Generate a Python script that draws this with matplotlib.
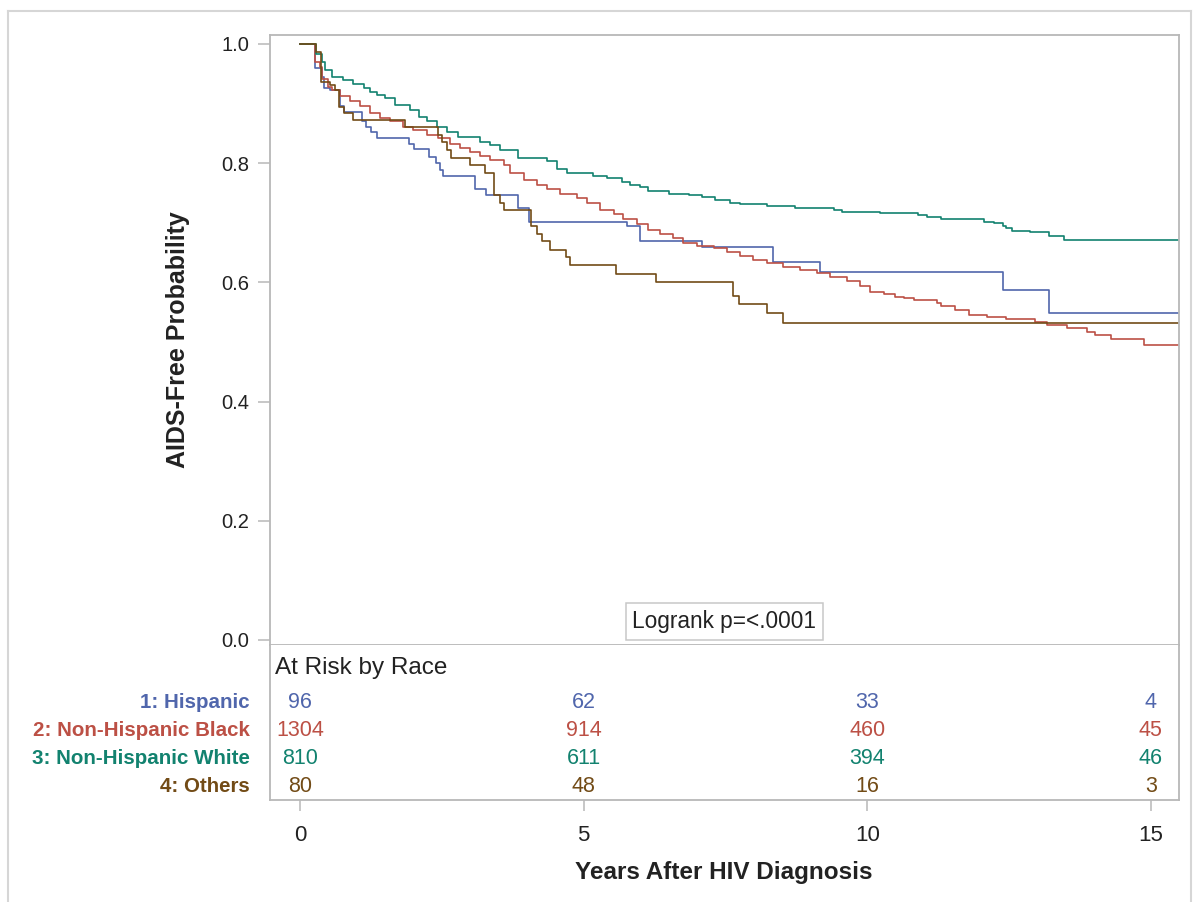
#!/usr/bin/env python3
# -*- coding: utf-8 -*-

# curvas Kaplan-Meier de sobrevida libre de SIDA por raza + tabla "at risk"
#------------------------------------------------------------------------------
import matplotlib
matplotlib.use("Agg")
import matplotlib.pyplot as plt
from matplotlib.lines import Line2D
import matplotlib.transforms as mtransforms

plt.rcParams['font.family'] = ['Liberation Sans', 'DejaVu Sans']

#------------------------------------------------------------------------------
# datos (tiempo en anos, probabilidad)
t_hisp = [0, 0.26, 0.38, 0.43, 0.53, 0.71, 0.78, 1.09, 1.17, 1.26, 1.36, 1.93,
          2.01, 2.28, 2.40, 2.47, 2.52, 3.09, 3.28, 3.85, 4.03, 5.76, 6.00,
          7.08, 8.34, 9.16, 12.39, 13.21, 15.5]
s_hisp = [1.0, 0.959, 0.945, 0.927, 0.922, 0.896, 0.886, 0.871, 0.861, 0.852,
          0.842, 0.833, 0.824, 0.811, 0.800, 0.789, 0.779, 0.756, 0.747, 0.724,
          0.702, 0.694, 0.669, 0.659, 0.634, 0.618, 0.587, 0.549, 0.549]

t_black = [0, 0.26, 0.35, 0.38, 0.50, 0.56, 0.71, 0.88, 1.06, 1.23, 1.41, 1.59,
           1.82, 2.00, 2.23, 2.44, 2.65, 2.82, 3.00, 3.17, 3.35, 3.59, 3.70,
           3.94, 4.17, 4.35, 4.59, 4.88, 5.06, 5.29, 5.53, 5.70, 5.94, 6.14,
           6.35, 6.58, 6.76, 7.00, 7.29, 7.53, 7.76, 7.99, 8.23, 8.52, 8.82,
           9.11, 9.35, 9.64, 9.88, 10.05, 10.29, 10.49, 10.64, 10.82, 11.23,
           11.30, 11.55, 11.79, 12.11, 12.45, 12.96, 13.17, 13.52, 13.87,
           14.02, 14.29, 14.87, 15.5]
s_black = [1.0, 0.970, 0.962, 0.942, 0.928, 0.922, 0.912, 0.905, 0.896, 0.884,
           0.876, 0.870, 0.861, 0.856, 0.847, 0.842, 0.833, 0.825, 0.819, 0.812,
           0.805, 0.797, 0.783, 0.772, 0.763, 0.756, 0.749, 0.741, 0.733, 0.722,
           0.714, 0.707, 0.698, 0.688, 0.682, 0.674, 0.666, 0.661, 0.657, 0.651,
           0.644, 0.638, 0.633, 0.626, 0.621, 0.616, 0.609, 0.603, 0.594, 0.584,
           0.580, 0.576, 0.573, 0.570, 0.566, 0.560, 0.554, 0.545, 0.542, 0.538,
           0.534, 0.529, 0.523, 0.517, 0.512, 0.505, 0.495, 0.495]

t_white = [0, 0.28, 0.38, 0.44, 0.56, 0.76, 0.93, 1.12, 1.23, 1.35, 1.50, 1.68,
           1.94, 2.09, 2.23, 2.41, 2.59, 2.79, 3.17, 3.35, 3.53, 3.85, 4.35,
           4.53, 4.70, 5.17, 5.41, 5.67, 5.82, 6.00, 6.14, 6.50, 6.85, 7.08,
           7.32, 7.58, 7.76, 8.23, 8.73, 9.41, 9.55, 10.23, 10.89, 11.05, 11.30,
           12.05, 12.23, 12.40, 12.45, 12.55, 12.87, 13.20, 13.46, 15.5]
s_white = [1.0, 0.983, 0.969, 0.956, 0.945, 0.940, 0.933, 0.926, 0.920, 0.914,
           0.909, 0.898, 0.889, 0.878, 0.870, 0.861, 0.853, 0.844, 0.836, 0.831,
           0.822, 0.808, 0.803, 0.791, 0.784, 0.779, 0.775, 0.768, 0.763, 0.760,
           0.754, 0.749, 0.747, 0.744, 0.739, 0.734, 0.732, 0.728, 0.724, 0.721,
           0.718, 0.716, 0.713, 0.709, 0.706, 0.702, 0.699, 0.695, 0.691, 0.687,
           0.684, 0.678, 0.671, 0.671]

t_other = [0, 0.28, 0.37, 0.53, 0.62, 0.69, 0.78, 0.93, 1.85, 2.43, 2.50, 2.59,
           2.67, 3.00, 3.26, 3.42, 3.53, 3.60, 4.07, 4.17, 4.26, 4.41, 4.69,
           4.76, 5.57, 6.27, 7.64, 7.74, 8.24, 8.51, 15.5]
s_other = [1.0, 0.986, 0.936, 0.931, 0.923, 0.895, 0.885, 0.872, 0.860, 0.847,
           0.836, 0.822, 0.809, 0.797, 0.784, 0.747, 0.733, 0.721, 0.694, 0.682,
           0.670, 0.655, 0.642, 0.629, 0.614, 0.601, 0.577, 0.564, 0.548, 0.532,
           0.532]

# tabla de pacientes en riesgo
grupos = ['1: Hispanic', '2: Non-Hispanic Black', '3: Non-Hispanic White',
          '4: Others']
tiempos_riesgo = [0, 5, 10, 15]
riesgo_hisp = [96, 62, 33, 4]
riesgo_black = [1304, 914, 460, 45]
riesgo_white = [810, 611, 394, 46]
riesgo_other = [80, 48, 16, 3]

colores = ['#5066AC', '#BC5045', '#12826F', '#724B16']
gris = '#B8B8B8'
texto = '#222222'

#------------------------------------------------------------------------------
W, H = 1195, 902
fig = plt.figure(figsize=(W / 100, H / 100), dpi=100)

def px_box(x0, y0, x1, y1):
    # caja en pixeles (origen arriba a la izquierda) -> fraccion de figura
    return [x0 / W, 1 - y1 / H, (x1 - x0) / W, (y1 - y0) / H]

ax = fig.add_axes(px_box(270, 35, 1179, 645))
at = fig.add_axes(px_box(270, 645, 1179, 800), sharex=ax)

curvas = [(t_hisp, s_hisp), (t_black, s_black), (t_white, s_white),
          (t_other, s_other)]
for (t, s), c in zip(curvas, colores):
    ax.step(t, s, where='post', color=c, lw=1.2)

ax.set_xlim(-0.529, 15.495)
ax.set_ylim(-0.0084, 1.0151)
ax.set_yticks([0.0, 0.2, 0.4, 0.6, 0.8, 1.0])
ax.set_yticklabels(['0.0', '0.2', '0.4', '0.6', '0.8', '1.0'])
ax.tick_params(axis='y', direction='out', length=9, width=1.1, color=gris,
               pad=6, labelsize=14.5, labelcolor=texto)
ax.tick_params(axis='x', bottom=False, labelbottom=False)
for sp in ax.spines.values():
    sp.set_color(gris)
    sp.set_linewidth(1.3)

# cuadro logrank
ax.text(0.5, 0.039, 'Logrank p=<.0001', transform=ax.transAxes,
        ha='center', va='center', fontsize=16.3, color=texto,
        bbox=dict(boxstyle='square,pad=0.3', fc='white', ec='#C8C8C8', lw=1.1))

# tabla at risk
at.set_ylim(0, 1)
at.set_yticks([])
at.spines['top'].set_visible(False)
for k in ['left', 'right', 'bottom']:
    at.spines[k].set_color(gris)
    at.spines[k].set_linewidth(1.3)
at.set_xticks(tiempos_riesgo)
at.set_xticklabels([str(v) for v in tiempos_riesgo])
at.tick_params(axis='x', direction='out', length=8, width=1.1, color=gris,
               pad=10, labelsize=16, labelcolor=texto)

at.text(0.0055, 0.852, 'At Risk by Race', transform=at.transAxes,
        ha='left', va='center', fontsize=17.5, color=texto)

filas_y = [703, 730, 758, 786]
riesgos = [riesgo_hisp, riesgo_black, riesgo_white, riesgo_other]
trans = mtransforms.blended_transform_factory(at.transData, at.transAxes)
for i in range(len(grupos)):
    yf = (800 - filas_y[i]) / 155
    for xv, n in zip(tiempos_riesgo, riesgos[i]):
        at.text(xv, yf, str(n), transform=trans, ha='center', va='center',
                fontsize=15.5, color=colores[i])
    fig.text(250 / W, 1 - filas_y[i] / H, grupos[i], ha='right', va='center',
             fontsize=14.8, fontweight='bold', color=colores[i])

# titulos de ejes
fig.text(178 / W, 1 - 340 / H, 'AIDS-Free Probability', rotation=90,
         ha='center', va='center', fontsize=18, fontweight='bold',
         color=texto)
fig.text(724 / W, 1 - 873 / H, 'Years After HIV Diagnosis', ha='center',
         va='center', fontsize=17.5, fontweight='bold', color=texto)

# marco exterior gris claro
borde = '#D6D6D6'
fig.add_artist(Line2D([8 / W, 8 / W], [0, 1 - 11 / H], color=borde, lw=1.5,
                      transform=fig.transFigure))
fig.add_artist(Line2D([8 / W, 1191 / W], [1 - 11 / H, 1 - 11 / H], color=borde,
                      lw=1.5, transform=fig.transFigure))
fig.add_artist(Line2D([1191 / W, 1191 / W], [0, 1 - 11 / H], color=borde,
                      lw=1.5, transform=fig.transFigure))

fig.savefig('out.png', dpi=100)
